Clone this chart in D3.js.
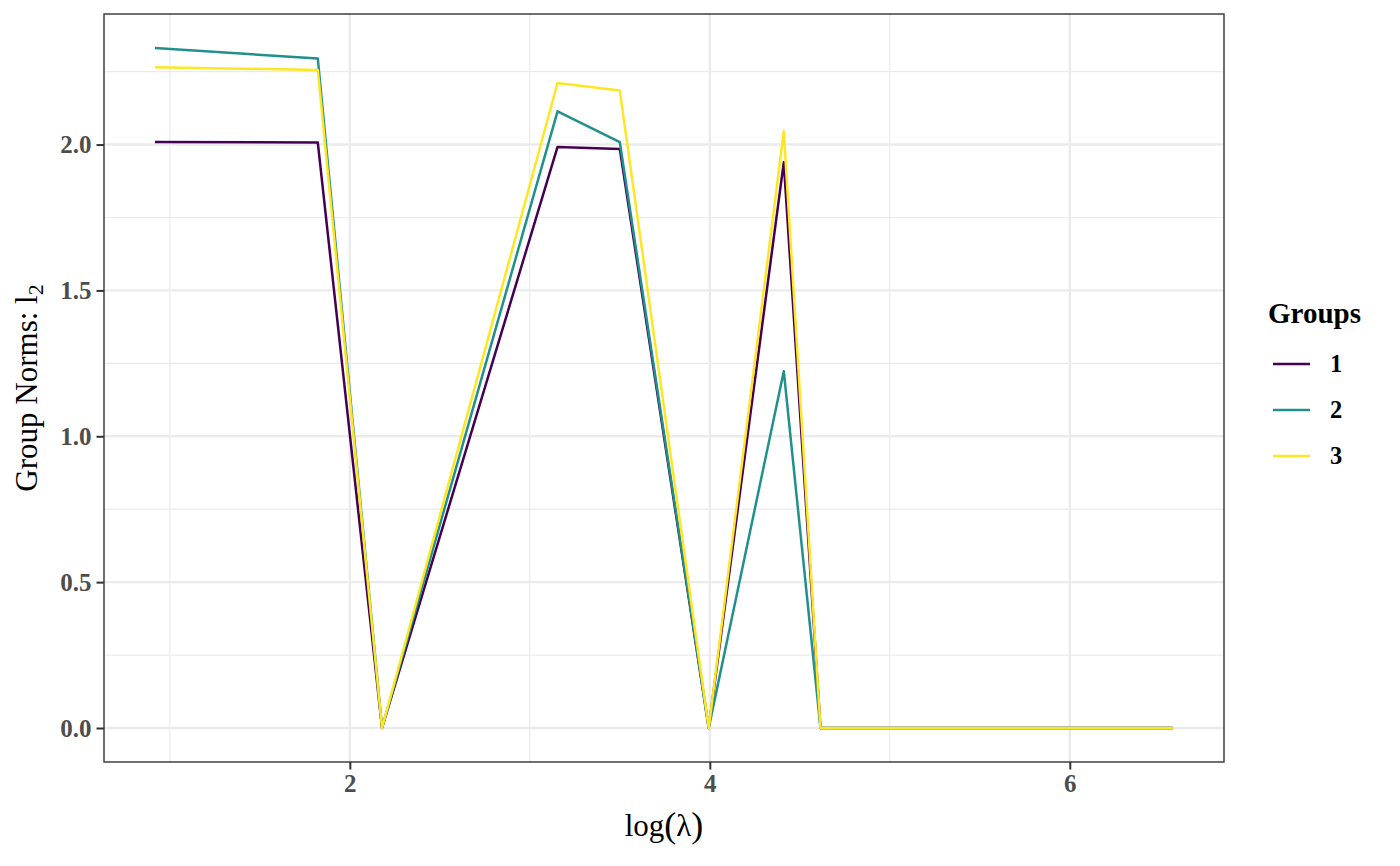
<!DOCTYPE html>
<html>
<head>
<meta charset="utf-8">
<script src="https://cdn.jsdelivr.net/npm/d3@7"></script>
<style>
  html, body { margin: 0; padding: 0; background: white; }
</style>
</head>
<body>
<div id="chart"></div>
<script>
// values
const logLambda = [0.917, 1.822, 2.179, 3.154, 3.500, 3.994, 4.411, 4.615, 6.574]
const group1 = [2.009, 2.007, 0, 1.992, 1.985, 0, 1.939, 0, 0]
const group2 = [2.331, 2.295, 0, 2.114, 2.008, 0, 1.223, 0, 0]
const group3 = [2.265, 2.256, 0, 2.211, 2.185, 0, 2.046, 0, 0]
const groupNames = ['1', '2', '3']
const groupColors = ['#440154', '#21908C', '#FDE725']
const xTicks = [2, 4, 6]
const xMinor = [1, 3, 5]
const yTicks = [0, 0.5, 1.0, 1.5, 2.0]
const yMinor = [0.25, 0.75, 1.25, 1.75, 2.25]

const width = 1400
const height = 866
const panel = { left: 104, right: 1224, top: 14, bottom: 762 }
const serif = '"Liberation Serif", "Times New Roman", serif'

const svg = d3.select('#chart')
    .append('svg')
    .attr('width', width)
    .attr('height', height)

// ggplot style 5% expansion
const xExt = d3.extent(logLambda)
const xPad = (xExt[1] - xExt[0]) * 0.05
const yMax = d3.max([...group1, ...group2, ...group3])
const yPad = yMax * 0.05

const x = d3.scaleLinear()
    .domain([xExt[0] - xPad, xExt[1] + xPad])
    .range([panel.left, panel.right])
const y = d3.scaleLinear()
    .domain([0 - yPad, yMax + yPad])
    .range([panel.bottom, panel.top])

const g = svg.append('g')

// minor grid
g.selectAll('.xminor').data(xMinor).enter().append('line')
    .attr('x1', d => x(d)).attr('x2', d => x(d))
    .attr('y1', panel.top).attr('y2', panel.bottom)
    .attr('stroke', '#EBEBEB').attr('stroke-width', 1.2)
g.selectAll('.yminor').data(yMinor).enter().append('line')
    .attr('x1', panel.left).attr('x2', panel.right)
    .attr('y1', d => y(d)).attr('y2', d => y(d))
    .attr('stroke', '#EBEBEB').attr('stroke-width', 1.2)

// major grid
g.selectAll('.xmajor').data(xTicks).enter().append('line')
    .attr('x1', d => x(d)).attr('x2', d => x(d))
    .attr('y1', panel.top).attr('y2', panel.bottom)
    .attr('stroke', '#EBEBEB').attr('stroke-width', 2.4)
g.selectAll('.ymajor').data(yTicks).enter().append('line')
    .attr('x1', panel.left).attr('x2', panel.right)
    .attr('y1', d => y(d)).attr('y2', d => y(d))
    .attr('stroke', '#EBEBEB').attr('stroke-width', 2.4)

// lines
const series = [group1, group2, group3]
const line = d3.line()
    .x((d, i) => x(logLambda[i]))
    .y(d => y(d))

series.forEach(function (vals, k) {
    g.append('path')
        .datum(vals)
        .attr('d', line)
        .attr('fill', 'none')
        .attr('stroke', groupColors[k])
        .attr('stroke-width', 2.5)
        .attr('stroke-linejoin', 'round')
})

// panel border
g.append('rect')
    .attr('x', panel.left).attr('y', panel.top)
    .attr('width', panel.right - panel.left)
    .attr('height', panel.bottom - panel.top)
    .attr('fill', 'none')
    .attr('stroke', '#333333')
    .attr('stroke-width', 1.4)

// axes
const xAxis = d3.axisBottom(x).tickValues(xTicks).tickFormat(d3.format('d'))
    .tickSize(7.5).tickPadding(5)
const yAxis = d3.axisLeft(y).tickValues(yTicks).tickFormat(d3.format('.1f'))
    .tickSize(7.5).tickPadding(5)

const gx = svg.append('g')
    .attr('transform', 'translate(0,' + panel.bottom + ')')
    .call(xAxis)
const gy = svg.append('g')
    .attr('transform', 'translate(' + panel.left + ',0)')
    .call(yAxis)

;[gx, gy].forEach(function (ax) {
    ax.select('.domain').remove()
    ax.selectAll('.tick line').attr('stroke', '#333333').attr('stroke-width', 2)
    ax.selectAll('.tick text')
        .attr('fill', '#4D4D4D')
        .attr('font-family', serif)
        .attr('font-weight', 'bold')
        .attr('font-size', 25)
})

// axis titles
const xt = svg.append('text')
    .attr('x', (panel.left + panel.right) / 2)
    .attr('y', 836)
    .attr('text-anchor', 'middle')
    .attr('font-family', serif)
    .attr('font-size', 31)
    .attr('fill', 'black')
xt.append('tspan').text('log')
xt.append('tspan').attr('font-size', 36).attr('dy', 1).text('(')
xt.append('tspan').attr('font-size', 31).attr('dy', -1).text('λ')
xt.append('tspan').attr('font-size', 36).attr('dy', 1).text(')')

const yt = svg.append('text')
    .attr('transform', 'translate(37,' + (panel.top + panel.bottom) / 2 + ') rotate(-90)')
    .attr('text-anchor', 'middle')
    .attr('font-family', serif)
    .attr('font-size', 31)
    .attr('fill', 'black')
yt.append('tspan').text('Group Norms: l')
yt.append('tspan').attr('font-size', 22).attr('dy', 6).text('2')

// legend
const legend = svg.append('g')
legend.append('text')
    .attr('x', 1268)
    .attr('y', 323)
    .attr('font-family', serif)
    .attr('font-weight', 'bold')
    .attr('font-size', 29)
    .attr('fill', 'black')
    .text('Groups')

const keys = legend.selectAll('.key').data(groupNames).enter().append('g')
    .attr('transform', (d, i) => 'translate(0,' + (364 + i * 46) + ')')
keys.append('line')
    .attr('x1', 1273).attr('x2', 1310)
    .attr('y1', 0).attr('y2', 0)
    .attr('stroke', (d, i) => groupColors[i])
    .attr('stroke-width', 2.5)
keys.append('text')
    .attr('x', 1330)
    .attr('y', 0)
    .attr('dy', '0.34em')
    .attr('font-family', serif)
    .attr('font-weight', 'bold')
    .attr('font-size', 24.5)
    .attr('fill', 'black')
    .text(d => d)
</script>
</body>
</html>
